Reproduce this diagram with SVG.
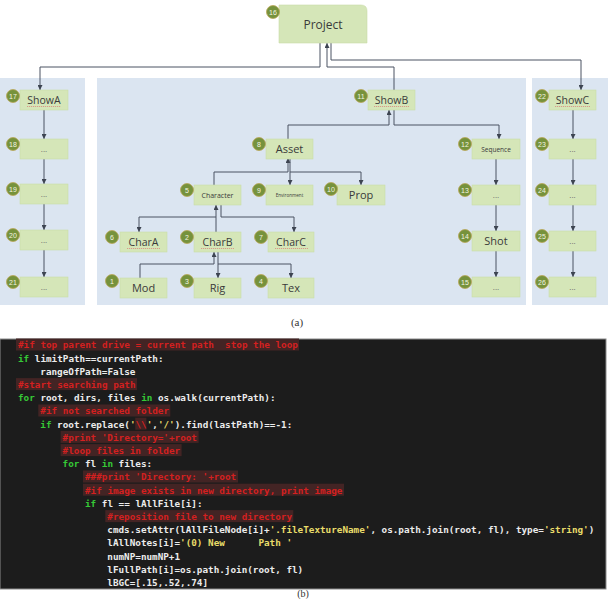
<svg xmlns="http://www.w3.org/2000/svg" width="608" height="599" viewBox="0 0 608 599">
<style>
.panel{fill:#dbe5f1}
.node{fill:#d5e6b8;stroke:#c9dca8;stroke-width:0.6}
.lbl{font-family:"Open Sans","Noto Sans",sans-serif;fill:#3a3a3a;text-anchor:middle}
.dots{font-family:"Open Sans",sans-serif;fill:#6a6a6a;text-anchor:middle;font-size:8px}
.bd{fill:#76923c;stroke:#b9a656;stroke-width:0.8}
.bt{font-family:"Liberation Sans",sans-serif;font-size:7px;fill:#f4f4e0;text-anchor:middle}
.sq{stroke:#d86a6a;stroke-width:0.6;stroke-dasharray:1.2 0.8;fill:none}
.con path{fill:none;stroke:#4a5262;stroke-width:1;marker-end:url(#ar)}
.code text{font-family:"DejaVu Sans Mono",monospace;font-weight:bold;font-size:9.3px;fill:#ececec;white-space:pre}
.code .kw{fill:#36c936}
.code .st{fill:#e9dc6a}
.code .cm{fill:#d42020}
.hl{fill:#432424}
</style>
<defs>
<marker id="ar" markerUnits="userSpaceOnUse" markerWidth="5" markerHeight="5" refX="5" refY="2.5" orient="auto">
<path d="M0,0 L5,2.5 L0,5 z" fill="#3d4451"/>
</marker>
</defs>
<rect width="608" height="599" fill="#ffffff"/>
<rect class="panel" x="0" y="78" width="85" height="227"/>
<rect class="panel" x="97" y="78" width="429" height="227"/>
<rect class="panel" x="532" y="78" width="76" height="227"/>

<g class="con" id="connectors">
<path d="M320,43 V67 H40 V90"/>
<path d="M394,90 V67 H327 V43"/>
<path d="M331,43 V60 H581 V90"/>
<path d="M44,110 V139"/><path d="M44,159 V184"/><path d="M44,204 V230"/><path d="M44,250 V277"/>
<path d="M288,139 V125 H389 V110"/>
<path d="M394,110 V125 H499 V139"/>
<path d="M496,159 V185"/><path d="M496,205 V231"/><path d="M496,251 V277"/>
<path d="M573,110 V139"/><path d="M573,159 V185"/><path d="M573,205 V231"/><path d="M573,251 V277"/>
<path d="M214,185 V172 H288 V158"/>
<path d="M290,158 V185"/>
<path d="M290,172 H361 V185"/>
<path d="M216,232 V205"/>
<path d="M216,217 H139 V232"/>
<path d="M221,205 V217 H294 V232"/>
<path d="M140,278 V264 H214 V252"/>
<path d="M218,252 V278"/>
<path d="M218,264 H291 V278"/>
</g>

<g id="n16"><path class="node" d="M279,5 H361 Q367,5 367,11 V43 H279 Z"/><text class="lbl" x="323" y="29" font-size="12">Project</text><circle class="bd" cx="273" cy="12" r="6.5"/><text class="bt" x="273" y="14.5">16</text></g>
<g id="n17"><rect class="node" x="20" y="90" width="48" height="20"/><text class="lbl" x="44" y="104" font-size="10.5">ShowA</text><path class="sq" d="M27,106.5 H61"/><circle class="bd" cx="13" cy="96" r="6.5"/><text class="bt" x="13" y="98.5">17</text></g>
<g id="n18"><rect class="node" x="20" y="139" width="48" height="20"/><text class="dots" x="44" y="152">...</text><circle class="bd" cx="13" cy="144" r="6.5"/><text class="bt" x="13" y="146.5">18</text></g>
<g id="n19"><rect class="node" x="20" y="184" width="48" height="20"/><text class="dots" x="44" y="197">...</text><circle class="bd" cx="13" cy="189" r="6.5"/><text class="bt" x="13" y="191.5">19</text></g>
<g id="n20"><rect class="node" x="20" y="230" width="48" height="20"/><text class="dots" x="44" y="243">...</text><circle class="bd" cx="13" cy="235" r="6.5"/><text class="bt" x="13" y="237.5">20</text></g>
<g id="n21"><rect class="node" x="20" y="277" width="48" height="20"/><text class="dots" x="44" y="290">...</text><circle class="bd" cx="13" cy="282" r="6.5"/><text class="bt" x="13" y="284.5">21</text></g>

<g id="n11"><rect class="node" x="368" y="90" width="47" height="20"/><text class="lbl" x="391.5" y="104" font-size="10.5">ShowB</text><path class="sq" d="M374,106.5 H409"/><circle class="bd" cx="361" cy="96" r="6.5"/><text class="bt" x="361" y="98.5">11</text></g>
<g id="n12"><rect class="node" x="472" y="139" width="48" height="20"/><text class="lbl" x="496" y="151.5" font-size="6.5">Sequence</text><circle class="bd" cx="465" cy="144" r="6.5"/><text class="bt" x="465" y="146.5">12</text></g>
<g id="n13"><rect class="node" x="472" y="185" width="48" height="20"/><text class="dots" x="496" y="198">...</text><circle class="bd" cx="465" cy="190" r="6.5"/><text class="bt" x="465" y="192.5">13</text></g>
<g id="n14"><rect class="node" x="472" y="231" width="48" height="20"/><text class="lbl" x="496" y="245" font-size="11">Shot</text><circle class="bd" cx="465" cy="236" r="6.5"/><text class="bt" x="465" y="238.5">14</text></g>
<g id="n15"><rect class="node" x="472" y="277" width="48" height="20"/><text class="dots" x="496" y="290">...</text><circle class="bd" cx="465" cy="282" r="6.5"/><text class="bt" x="465" y="284.5">15</text></g>

<g id="n22"><rect class="node" x="549" y="90" width="47" height="20"/><text class="lbl" x="572.5" y="104" font-size="10.5">ShowC</text><path class="sq" d="M555,106.5 H590"/><circle class="bd" cx="542" cy="96" r="6.5"/><text class="bt" x="542" y="98.5">22</text></g>
<g id="n23"><rect class="node" x="549" y="139" width="47" height="20"/><text class="dots" x="572.5" y="152">...</text><circle class="bd" cx="542" cy="144" r="6.5"/><text class="bt" x="542" y="146.5">23</text></g>
<g id="n24"><rect class="node" x="549" y="185" width="47" height="20"/><text class="dots" x="572.5" y="198">...</text><circle class="bd" cx="542" cy="190" r="6.5"/><text class="bt" x="542" y="192.5">24</text></g>
<g id="n25"><rect class="node" x="549" y="231" width="47" height="20"/><text class="dots" x="572.5" y="244">...</text><circle class="bd" cx="542" cy="236" r="6.5"/><text class="bt" x="542" y="238.5">25</text></g>
<g id="n26"><rect class="node" x="549" y="277" width="47" height="20"/><text class="dots" x="572.5" y="290">...</text><circle class="bd" cx="542" cy="282" r="6.5"/><text class="bt" x="542" y="284.5">26</text></g>

<g id="n8"><rect class="node" x="266" y="139" width="47" height="20"/><text class="lbl" x="289.5" y="153" font-size="11">Asset</text><circle class="bd" cx="259" cy="144" r="6.5"/><text class="bt" x="259" y="146.5">8</text></g>
<g id="n5"><rect class="node" x="194" y="185" width="47" height="20"/><text class="lbl" x="217.5" y="197.5" font-size="7">Character</text><circle class="bd" cx="187" cy="190" r="6.5"/><text class="bt" x="187" y="192.5">5</text></g>
<g id="n9"><rect class="node" x="266" y="185" width="47" height="20"/><text class="lbl" x="289.5" y="197" font-size="4.6">Environment</text><circle class="bd" cx="259" cy="190" r="6.5"/><text class="bt" x="259" y="192.5">9</text></g>
<g id="n10"><rect class="node" x="337" y="185" width="48" height="20"/><text class="lbl" x="361" y="199" font-size="11">Prop</text><circle class="bd" cx="331" cy="189" r="6.5"/><text class="bt" x="331" y="191.5">10</text></g>
<g id="n6"><rect class="node" x="120" y="232" width="47" height="20"/><text class="lbl" x="143.5" y="246" font-size="10.5">CharA</text><path class="sq" d="M127,248.5 H160"/><circle class="bd" cx="112" cy="237" r="6.5"/><text class="bt" x="112" y="239.5">6</text></g>
<g id="n2"><rect class="node" x="194" y="232" width="47" height="20"/><text class="lbl" x="217.5" y="246" font-size="10.5">CharB</text><path class="sq" d="M201,248.5 H234"/><circle class="bd" cx="187" cy="237" r="6.5"/><text class="bt" x="187" y="239.5">2</text></g>
<g id="n7"><rect class="node" x="268" y="232" width="46" height="20"/><text class="lbl" x="291" y="246" font-size="10.5">CharC</text><path class="sq" d="M275,248.5 H308"/><circle class="bd" cx="261" cy="237" r="6.5"/><text class="bt" x="261" y="239.5">7</text></g>
<g id="n1"><rect class="node" x="120" y="278" width="47" height="20"/><text class="lbl" x="143.5" y="292" font-size="11">Mod</text><circle class="bd" cx="112" cy="281" r="6.5"/><text class="bt" x="112" y="283.5">1</text></g>
<g id="n3"><rect class="node" x="194" y="278" width="47" height="20"/><text class="lbl" x="217.5" y="292" font-size="11">Rig</text><circle class="bd" cx="187" cy="281" r="6.5"/><text class="bt" x="187" y="283.5">3</text></g>
<g id="n4"><rect class="node" x="268" y="278" width="46" height="20"/><text class="lbl" x="291" y="292" font-size="11">Tex</text><circle class="bd" cx="261" cy="281" r="6.5"/><text class="bt" x="261" y="283.5">4</text></g>

<text x="297" y="326" font-family="Liberation Serif,serif" font-size="11" fill="#333" text-anchor="middle">(a)</text>

<rect x="0" y="339" width="606" height="250" fill="#1c1c1c" stroke="#8a8a8a" stroke-width="1"/>
<g class="hlg">
<rect class="hl" x="16" y="338.5" width="283" height="12"/>
<rect class="hl" x="16" y="378.1" width="121" height="12"/>
<rect class="hl" x="38.3" y="404.5" width="132" height="12"/>
<rect class="hl" x="135.2" y="417.7" width="11.2" height="12"/>
<rect class="hl" x="60.6" y="430.9" width="138" height="12"/>
<rect class="hl" x="60.6" y="444.1" width="121" height="12"/>
<rect class="hl" x="83" y="470.5" width="155" height="12"/>
<rect class="hl" x="83" y="483.7" width="261" height="12"/>
<rect class="hl" x="105.3" y="510.1" width="188" height="12"/>
</g>
<g class="code">
<text x="18" y="348.3" class="cm" xml:space="preserve">#if top parent drive = current path  stop the loop</text>
<text x="18" y="361.5" xml:space="preserve"><tspan class="kw">if</tspan> limitPath==currentPath:</text>
<text x="40.3" y="374.7">rangeOfPath=False</text>
<text x="18" y="387.9" class="cm">#start searching path</text>
<text x="18" y="401.1" xml:space="preserve"><tspan class="kw">for</tspan> root, dirs, files <tspan class="kw">in</tspan> os.walk(currentPath):</text>
<text x="40.3" y="414.3" class="cm">#if not searched folder</text>
<text x="40.3" y="427.5" xml:space="preserve"><tspan class="kw">if</tspan> root.replace(<tspan class="st">'</tspan><tspan class="cm">\\</tspan><tspan class="st">'</tspan>,<tspan class="st">'/'</tspan>).find(lastPath)==-1:</text>
<text x="62.6" y="440.7" class="cm" xml:space="preserve">#print 'Directory='+root</text>
<text x="62.6" y="453.9" class="cm">#loop files in folder</text>
<text x="62.6" y="467.1" xml:space="preserve"><tspan class="kw">for</tspan> fl <tspan class="kw">in</tspan> files:</text>
<text x="85" y="480.3" class="cm" xml:space="preserve">###print 'Directory: '+root</text>
<text x="85" y="493.5" class="cm">#if image exists in new directory, print image</text>
<text x="85" y="506.7" xml:space="preserve"><tspan class="kw">if</tspan> fl == lAllFile[i]:</text>
<text x="107.3" y="519.9" class="cm">#reposition file to new directory</text>
<text x="107.3" y="533.1" xml:space="preserve">cmds.setAttr(lAllFileNode[i]+<tspan class="st">'.fileTextureName'</tspan>, os.path.join(root, fl), type=<tspan class="st">'string'</tspan>)</text>
<text x="107.3" y="546.3" xml:space="preserve">lAllNotes[i]=<tspan class="st">'(0) New      Path '</tspan></text>
<text x="107.3" y="559.5">numNP=numNP+1</text>
<text x="107.3" y="572.7" xml:space="preserve">lFullPath[i]=os.path.join(root, fl)</text>
<text x="107.3" y="585.9">lBGC=[.15,.52,.74]</text>
</g>
<text x="303" y="597" font-family="Liberation Serif,serif" font-size="10" fill="#333" text-anchor="middle">(b)</text>
</svg>
